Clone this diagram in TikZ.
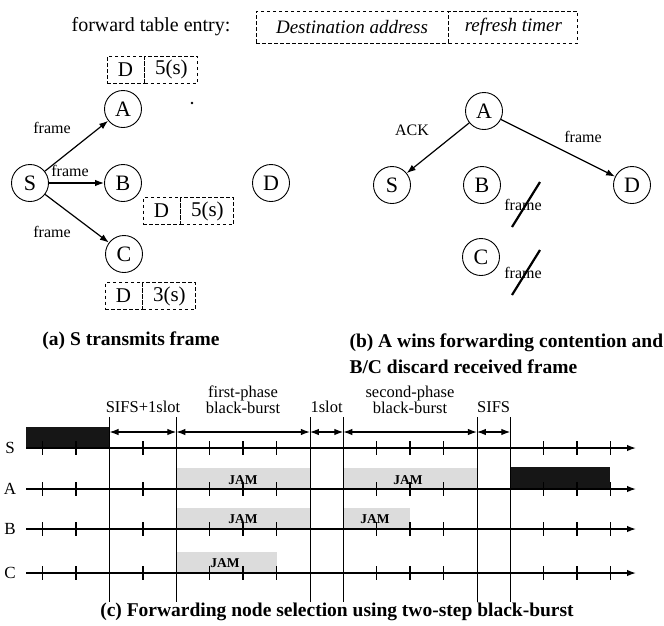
\documentclass[tikz,border=0pt]{standalone}
\usepackage{fontspec}
\setmainfont{Liberation Serif}
\definecolor{jamgray}{RGB}{220,220,220}
\definecolor{burstblack}{RGB}{22,22,22}
\usetikzlibrary{arrows.meta,positioning}

\tikzset{
  station/.style={circle, draw, line width=0.9pt, minimum size=37pt,
    inner sep=0pt, font=\fontsize{22}{24}\selectfont},
  cell/.style={draw, dash pattern=on 3.5pt off 2.5pt, line width=0.9pt,
    minimum height=27pt, inner sep=0pt, font=\fontsize{21}{23}\selectfont},
  msg/.style={font=\fontsize{16}{18}\selectfont},
  caption/.style={font=\fontsize{19.5}{26}\selectfont\bfseries},
  slotlbl/.style={font=\fontsize{16.5}{15.5}\selectfont, align=center},
  jam/.style={font=\fontsize{13.5}{15}\selectfont\bfseries},
  axis/.style={line width=1.4pt},
  tick/.style={line width=1.3pt},
}

\begin{document}
\begin{tikzpicture}[x=1pt, y=-1pt, >={Latex[length=9pt,width=6.5pt]},
    font=\fontsize{17}{19}\selectfont]
  \useasboundingbox (0,0) rectangle (664,625);
  % Table entry legend
  \node[font=\fontsize{20}{22}\selectfont] (legend) at (151,27) {forward table entry:};
  \node[cell, minimum width=192pt, minimum height=32pt,
        font=\fontsize{19}{21}\selectfont\itshape] (dst) at (352,27)
    {Destination address};
  \node[cell, minimum width=129pt, minimum height=32pt,
        font=\fontsize{19}{21}\selectfont\itshape, right=0pt of dst] (tmr)
    {refresh timer};

  % (a) S transmits frame
  \node[station] (aS) at (30,183) {S};
  \node[station] (aA) at (123,109) {A};
  \node[station] (aB) at (123,183) {B};
  \node[station] (aC) at (124,254) {C};
  \node[station] (aD) at (271,183) {D};
  \draw[->, line width=1.2pt] (aS) -- (aA);
  \draw[->, line width=1.2pt] (aS) -- (aB);
  \draw[->, line width=1.2pt] (aS) -- (aC);
  \node[msg] (fA) at (52,128) {frame};
  \node[msg] (fB) at (70,171) {frame};
  \node[msg] (fC) at (52,232) {frame};
  \fill (192,103) circle (1.3pt);
  % entries kept by A, B, C
  \foreach \n/\x/\y/\t in {A/125.5/69.5/5(s), B/161.5/211/5(s), C/123.5/296/3(s)}{
    \node[cell, minimum width=37pt] (d\n) at (\x,\y) {D};
    \node[cell, minimum width=53pt, right=0pt of d\n] (t\n) {\t};
  }
  \node[caption] (capa) at (131,341) {(a) S transmits frame};

  % (b) A wins forwarding contention
  \node[station] (bS) at (392,185) {S};
  \node[station] (bA) at (484,111) {A};
  \node[station] (bB) at (482,185) {B};
  \node[station] (bC) at (481,257) {C};
  \node[station] (bD) at (632,185) {D};
  \draw[->, line width=1.2pt] (bA) -- (bS);
  \draw[->, line width=1.2pt] (bA) -- (bD);
  \node[msg] (ack) at (412,130) {ACK};
  \node[msg] (fD) at (583,137) {frame};
  \node[msg] (xB) at (523,205) {frame};
  \node[msg] (xC) at (523,273) {frame};
  \foreach \n in {xB,xC}
    \draw[line width=2.2pt] ([shift={(17,-23)}]\n.center) -- ([shift={(-11,22)}]\n.center);
  \node[caption, anchor=west, align=left] (capb) at (346,354)
    {(b) A wins forwarding contention and\\B/C discard received frame};

  % (c) Timeline
  \fill[burstblack] (26,427) rectangle (109.5,448);
  \fill[burstblack] (510.3,467) rectangle (609.5,489);
  \fill[jamgray] (176.3,468) rectangle (309.9,489);
  \fill[jamgray] (343.3,468) rectangle (476.9,489);
  \fill[jamgray] (176.3,508) rectangle (309.9,529);
  \fill[jamgray] (343.3,508) rectangle (410.1,529);
  \fill[jamgray] (176.3,552) rectangle (276.5,573);
  \foreach \n/\y in {S/448, A/489, B/529, C/573}{
    \node (lbl\n) at (10,\y) {\n};
    \coordinate (beg\n) at (26,\y);
    \coordinate (end\n) at (636,\y);
    \draw[->, axis] (beg\n) -- (end\n);
    \foreach \k in {1,2,4,6,7,8,11,12,13,16,17,18}
      \draw[tick] ({9.3+33.4*\k},{\y-7}) -- ++(0,14);
  }
  % Slot boundaries
  \foreach \k in {3,5,9,10,14,15}{
    \coordinate (top\k) at ({9.3+33.4*\k},417);
    \coordinate (bot\k) at ({9.3+33.4*\k},602);
    \coordinate (dim\k) at ({9.3+33.4*\k},432);
    \draw[line width=0.8pt] (top\k) -- (bot\k);
  }
  \foreach \a/\b in {3/5,5/9,9/10,10/14,14/15}
    \draw[<->, line width=1.2pt] (dim\a) -- (dim\b);
  \node[slotlbl] (sifsa) at (143,407) {SIFS+1slot};
  \node[slotlbl] (phasea) at (243,400) {first-phase\\black-burst};
  \node[slotlbl] (slot) at (326.6,407) {1slot};
  \node[slotlbl] (phaseb) at (410,400) {second-phase\\black-burst};
  \node[slotlbl] (sifs) at (493.6,407) {SIFS};
  \node[jam] (jA1) at (243,480) {JAM};
  \node[jam] (jA2) at (408,480) {JAM};
  \node[jam] (jB1) at (243,519) {JAM};
  \node[jam] (jB2) at (375,519) {JAM};
  \node[jam] (jC) at (225,563) {JAM};
  \node[caption] (capc) at (337,612)
    {(c) Forwarding node selection using two-step black-burst};
\end{tikzpicture}
\end{document}
